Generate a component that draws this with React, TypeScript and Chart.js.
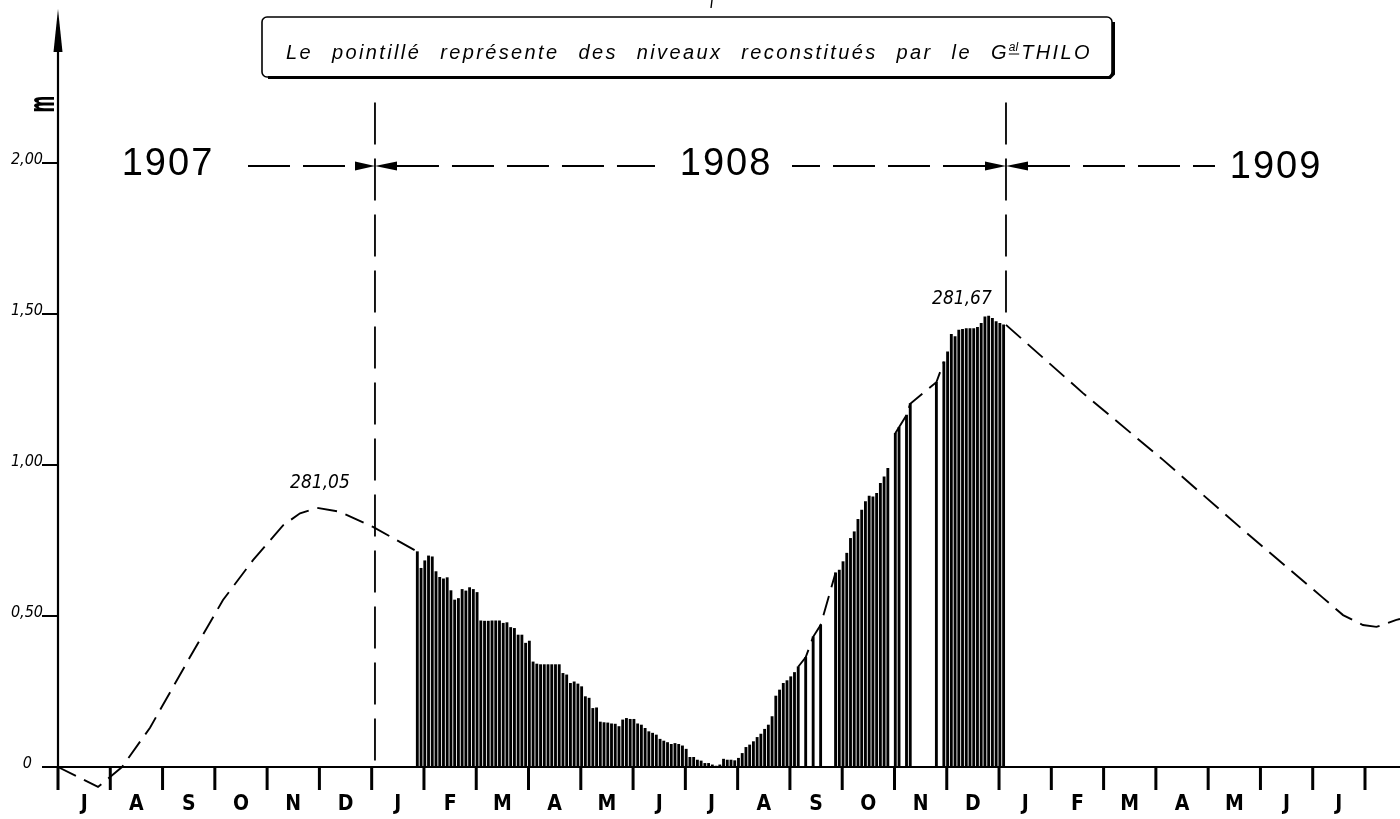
import React, { useEffect, useRef } from "react";
import { Chart, registerables } from "chart.js";

Chart.register(...registerables);

// x unit: months counted from 1 July 1907 (0) to August 1909 (25)
const monthLabels = ["J", "A", "S", "O", "N", "D", "J", "F", "M", "A", "M", "J", "J", "A", "S", "O", "N", "D", "J", "F", "M", "A", "M", "J", "J"];
const yTickValues = [0, 0.5, 1, 1.5, 2];
const yTickLabels = ["0", "0,50", "1,00", "1,50", "2,00"];

const yearLabels = ["1907", "1908", "1909"];
const yearLabelMonths = [2.085, 12.76, 23.28];
const yearDividerMonths = [6.063, 18.133];
const yearLineLevel = 1.99;
const dividerTopLevel = 2.2;

// Measured levels (m), one bar every 1/14 month from late January 1908
const firstBarMonth = 6.873;
const barsPerMonth = 14;
const measuredLevels: (number | null)[] = [
  0.713, 0.658, 0.683, 0.699, 0.696, 0.647, 0.628, 0.623, 0.627, 0.584,
  0.553, 0.558, 0.588, 0.583, 0.594, 0.588, 0.578, 0.484, 0.483, 0.483,
  0.484, 0.484, 0.484, 0.476, 0.478, 0.462, 0.459, 0.437, 0.437, 0.41,
  0.417, 0.348, 0.341, 0.339, 0.339, 0.339, 0.339, 0.339, 0.339, 0.31,
  0.305, 0.277, 0.282, 0.275, 0.266, 0.233, 0.228, 0.194, 0.196, 0.149,
  0.147, 0.146, 0.143, 0.142, 0.134, 0.156, 0.161, 0.158, 0.158, 0.143,
  0.139, 0.128, 0.117, 0.112, 0.106, 0.092, 0.086, 0.081, 0.075, 0.078,
  0.075, 0.07, 0.059, 0.032, 0.032, 0.023, 0.02, 0.012, 0.012, 0.007,
  0.003, 0.007, 0.026, 0.023, 0.023, 0.021, 0.029, 0.045, 0.065, 0.073,
  0.084, 0.098, 0.109, 0.125, 0.139, 0.167, 0.235, 0.255, 0.277, 0.286,
  0.299, 0.313, 0.332, null, 0.363, null, 0.431, null, 0.47, null,
  null, null, 0.643, 0.652, 0.68, 0.708, 0.757, 0.779, 0.82, 0.851,
  0.879, 0.897, 0.895, 0.906, 0.939, 0.961, 0.989, null, 1.105, 1.125,
  null, 1.165, 1.203, null, null, null, null, null, null, 1.274,
  null, 1.342, 1.375, 1.433, 1.425, 1.447, 1.449, 1.452, 1.452, 1.452,
  1.456, 1.469, 1.491, 1.493, 1.486, 1.475, 1.469, 1.464,
];

// Reconstructed (dashed) levels
const reconStartMonths = [0, 0.765, 1.224, 1.76, 2.525, 3.156, 3.73, 4.304, 4.63, 4.954, 5.394, 6.025, 6.873];
const reconStartLevels = [0, -0.066, 0, 0.13, 0.364, 0.553, 0.685, 0.8, 0.84, 0.858, 0.845, 0.795, 0.713];
const bridgeBars = [
  [102, 104, 106, 108, 112],
  [128, 131, 132, 139, 141],
];
const reconEndMonths = [18.133, 19.606, 21.137, 22.667, 24.197, 24.58, 24.96, 25.22, 25.6, 25.67];
const reconEndLevels = [1.464, 1.238, 1.017, 0.785, 0.56, 0.503, 0.47, 0.464, 0.487, 0.49];

const peakLabels = ["281,05", "281,67"];
const peakLabelMonths = [5.01, 17.29];
const peakLabelLevels = [0.94, 1.55];

const titleWords = ["Le", "pointillé", "représente", "des", "niveaux", "reconstitués", "par", "le"];
const titleSup = ["G", "al", "THILO"];

// scale ranges (chart area is the whole canvas)
const PX_PER_MONTH = 52.28;
const PX_PER_M = 302;
const X_MIN = -58 / PX_PER_MONTH;
const X_MAX = X_MIN + 1400 / PX_PER_MONTH;
const Y_MAX = 767 / PX_PER_M;
const Y_MIN = -(819 - 767) / PX_PER_M;

const barMonth = (i: number) => firstBarMonth + i / barsPerMonth;

const SANS_C = '"DejaVu Sans Condensed", "DejaVu Sans", sans-serif';
const LIB = '"Liberation Sans", Arial, sans-serif';

const decor = {
  id: "decor",
  afterDatasetsDraw(chart: any) {
    const { ctx } = chart;
    const xs = chart.scales.x;
    const ys = chart.scales.y;
    const X = (m: number) => xs.getPixelForValue(m);
    const Y = (v: number) => ys.getPixelForValue(v);
    const x0 = X(0);
    const y0 = Y(0);
    ctx.save();
    ctx.strokeStyle = "#000";
    ctx.fillStyle = "#000";
    ctx.lineCap = "butt";

    // y axis + arrow
    ctx.lineWidth = 2.2;
    ctx.beginPath();
    ctx.moveTo(x0, y0);
    ctx.lineTo(x0, 48);
    ctx.stroke();
    ctx.beginPath();
    ctx.moveTo(x0, 9);
    ctx.lineTo(x0 + 4.5, 52);
    ctx.lineTo(x0 - 4.5, 52);
    ctx.closePath();
    ctx.fill();

    // x axis
    ctx.beginPath();
    ctx.moveTo(x0 - 16, y0);
    ctx.lineTo(chart.width, y0);
    ctx.stroke();

    // y ticks and labels
    ctx.font = "italic 16px " + SANS_C;
    ctx.textBaseline = "alphabetic";
    yTickValues.forEach((v, i) => {
      const yy = Y(v);
      ctx.lineWidth = 2;
      ctx.beginPath();
      ctx.moveTo(x0 - 16, yy);
      ctx.lineTo(x0, yy);
      ctx.stroke();
      ctx.textAlign = "right";
      ctx.fillText(yTickLabels[i], v === 0 ? x0 - 26 : x0 - 15, yy + 1);
    });

    // "m" axis title
    ctx.save();
    ctx.translate(47, 104);
    ctx.rotate(-Math.PI / 2);
    ctx.scale(1, 2);
    ctx.font = "bold 18px " + SANS_C;
    ctx.textAlign = "center";
    ctx.textBaseline = "middle";
    ctx.fillText("m", 0, -1);
    ctx.restore();

    // month ticks and labels
    ctx.lineWidth = 3;
    for (let m = 0; m <= monthLabels.length; m++) {
      ctx.beginPath();
      ctx.moveTo(X(m), y0);
      ctx.lineTo(X(m), y0 + 23);
      ctx.stroke();
    }
    ctx.font = "bold 21px " + SANS_C;
    ctx.textAlign = "center";
    ctx.textBaseline = "middle";
    monthLabels.forEach((lab, i) => {
      ctx.fillText(lab, X(i + 0.5), y0 + 38);
    });

    // year dividers
    const d1 = X(yearDividerMonths[0]);
    const d2 = X(yearDividerMonths[1]);
    const yTop = Y(dividerTopLevel);
    ctx.lineWidth = 1.8;
    ctx.setLineDash([42, 14]);
    ctx.beginPath();
    ctx.moveTo(d1, yTop);
    ctx.lineTo(d1, y0);
    ctx.stroke();
    ctx.beginPath();
    ctx.moveTo(d2, yTop);
    ctx.lineTo(d2, Y(measuredLevels[measuredLevels.length - 1] as number));
    ctx.stroke();

    // year lines with arrows
    const yl = Y(yearLineLevel);
    ctx.setLineDash([42, 13]);
    const dashSeg = (a: number, b: number) => {
      ctx.beginPath();
      ctx.moveTo(a, yl);
      ctx.lineTo(b, yl);
      ctx.stroke();
    };
    dashSeg(248, d1 - 20);
    dashSeg(d1 + 22, 655);
    dashSeg(d2 - 21, 792);
    dashSeg(d2 + 22, 1215);
    ctx.setLineDash([]);
    const arrow = (tip: number, base: number) => {
      ctx.beginPath();
      ctx.moveTo(tip, yl);
      ctx.lineTo(base, yl - 4.5);
      ctx.lineTo(base, yl + 4.5);
      ctx.closePath();
      ctx.fill();
    };
    arrow(d1, d1 - 20);
    arrow(d1, d1 + 22);
    arrow(d2, d2 - 21);
    arrow(d2, d2 + 22);

    ctx.font = "38px " + LIB;
    ctx.textAlign = "center";
    ctx.textBaseline = "middle";
    ctx.letterSpacing = "2px";
    yearLabels.forEach((lab, i) => {
      ctx.fillText(lab, X(yearLabelMonths[i]) + 1, yl - 2 + (i === 2 ? 3 : 0));
    });
    ctx.letterSpacing = "0px";

    // peak labels
    ctx.font = "italic 19px " + SANS_C;
    ctx.textAlign = "center";
    ctx.textBaseline = "middle";
    peakLabels.forEach((lab, i) => {
      ctx.fillText(lab, X(peakLabelMonths[i]), Y(peakLabelLevels[i]));
    });

    // title box
    ctx.lineWidth = 1.6;
    ctx.beginPath();
    ctx.roundRect(262, 17, 850, 60, 5);
    ctx.stroke();
    ctx.lineWidth = 3;
    ctx.beginPath();
    ctx.moveTo(268, 77.5);
    ctx.lineTo(1110, 77.5);
    ctx.lineTo(1113.5, 74);
    ctx.lineTo(1113.5, 22);
    ctx.stroke();
    ctx.lineWidth = 1.4;
    ctx.beginPath();
    ctx.moveTo(712, 0);
    ctx.lineTo(711, 8);
    ctx.stroke();

    // title text: uniform letter spacing, justified between left and right
    const tLeft = 286;
    const tRight = 1092;
    const wordGap = 19;
    const bigFont = "italic 20px " + LIB;
    const supFont = "italic 12px " + LIB;
    ctx.textBaseline = "alphabetic";
    ctx.textAlign = "left";
    ctx.letterSpacing = "0px";
    ctx.font = bigFont;
    let natural = 0;
    let letters = 0;
    titleWords.forEach((w) => {
      natural += ctx.measureText(w).width;
      letters += w.length;
    });
    natural += ctx.measureText(titleSup[0]).width + ctx.measureText(titleSup[2]).width;
    letters += titleSup[0].length + titleSup[2].length;
    ctx.font = supFont;
    const supW = ctx.measureText(titleSup[1]).width;
    natural += supW + 3;
    const ls = Math.max(0, (tRight - tLeft - natural - wordGap * titleWords.length) / letters);
    const base = 59;
    let cx = tLeft;
    ctx.font = bigFont;
    ctx.letterSpacing = ls.toFixed(2) + "px";
    titleWords.forEach((w) => {
      ctx.fillText(w, cx, base);
      cx += ctx.measureText(w).width + wordGap;
    });
    ctx.fillText(titleSup[0], cx, base);
    cx += ctx.measureText(titleSup[0]).width;
    ctx.font = supFont;
    ctx.letterSpacing = "0px";
    ctx.fillText(titleSup[1], cx, base - 8);
    ctx.lineWidth = 1;
    ctx.beginPath();
    ctx.moveTo(cx, base - 5);
    ctx.lineTo(cx + supW + 1, base - 5);
    ctx.stroke();
    cx += supW + 3;
    ctx.font = bigFont;
    ctx.letterSpacing = ls.toFixed(2) + "px";
    ctx.fillText(titleSup[2], cx, base);
    ctx.letterSpacing = "0px";

    ctx.restore();
  },
};

export default function App() {
  const ref = useRef<HTMLCanvasElement | null>(null);

  useEffect(() => {
    const canvas = ref.current;
    if (!canvas) return;

    const barPoints = measuredLevels
      .map((v, i) => (v == null ? null : { x: barMonth(i), y: v }))
      .filter((p) => p !== null) as { x: number; y: number }[];

    const reconPoints: { x: number; y: number | null }[] = [];
    reconStartMonths.forEach((m, i) => reconPoints.push({ x: m, y: reconStartLevels[i] }));
    reconPoints.push({ x: reconStartMonths[reconStartMonths.length - 1], y: null });
    bridgeBars.forEach((seg) => {
      seg.forEach((i) => reconPoints.push({ x: barMonth(i), y: measuredLevels[i] as number }));
      reconPoints.push({ x: barMonth(seg[seg.length - 1]), y: null });
    });
    reconEndMonths.forEach((m, i) => reconPoints.push({ x: m, y: reconEndLevels[i] }));

    const chart = new Chart(canvas, {
      type: "bar",
      data: {
        datasets: [
          {
            type: "line",
            label: "Niveaux reconstitués",
            data: reconPoints as any,
            borderColor: "#000",
            borderWidth: 1.9,
            borderDash: [20, 9],
            pointRadius: 0,
            tension: 0,
            spanGaps: false,
            fill: false,
            order: 0,
          },
          {
            type: "bar",
            label: "Niveaux mesurés",
            data: barPoints as any,
            backgroundColor: "#000",
            borderWidth: 0,
            barThickness: 2.2,
            grouped: false,
            order: 1,
          },
        ] as any,
      },
      options: {
        animation: false,
        responsive: false,
        maintainAspectRatio: false,
        events: [],
        layout: { padding: 0 },
        plugins: {
          legend: { display: false },
          tooltip: { enabled: false },
          title: { display: false },
        },
        scales: {
          x: {
            type: "linear",
            min: X_MIN,
            max: X_MAX,
            display: false,
            offset: false,
            grid: { offset: false },
          },
          y: {
            type: "linear",
            min: Y_MIN,
            max: Y_MAX,
            display: false,
          },
        },
      } as any,
      plugins: [decor as any],
    });
    return () => chart.destroy();
  }, []);

  return (
    <div style={{ position: "fixed", left: 0, top: 0, width: 1400, height: 819, background: "#fff" }}>
      <canvas ref={ref} width={1400} height={819} style={{ display: "block", width: 1400, height: 819 }} />
    </div>
  );
}
